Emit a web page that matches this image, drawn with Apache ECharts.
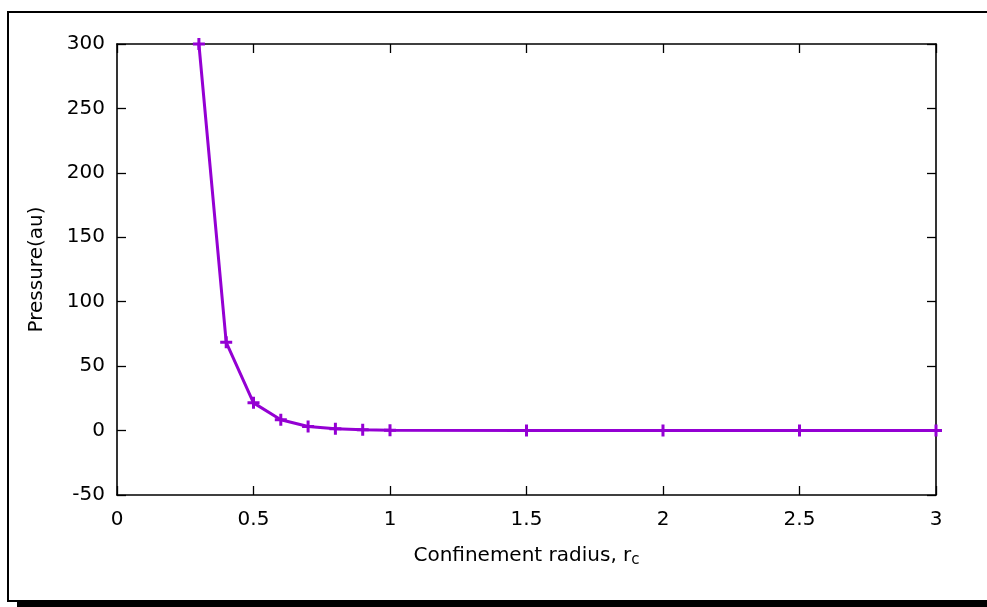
<!DOCTYPE html>
<html>
<head>
<meta charset="utf-8">
<script src="https://cdn.jsdelivr.net/npm/echarts@6/dist/echarts.min.js"></script>
<style>html,body{margin:0;padding:0;background:#fff}#c{width:987px;height:607px}</style>
</head>
<body>
<div id="c"></div>
<script>
var radius = [0.3, 0.4, 0.5, 0.6, 0.7, 0.8, 0.9, 1.0, 1.5, 2.0, 2.5, 3.0];
var pressure = [300, 68.5, 21.5, 8.4, 3.2, 1.4, 0.6, 0.3, 0.02, 0.005, 0.002, 0.001];
var xTicks = {min: 0, max: 3, interval: 0.5};
var yTicks = {min: -50, max: 300, interval: 50};

var chart = echarts.init(document.getElementById('c'), null, {renderer: 'canvas'});
var FONT = 'DejaVu Sans';
var axisLine = {show: true, onZero: false, lineStyle: {color: '#000', width: 1.6}};
var tick = {show: true, inside: true, length: 9, lineStyle: {color: '#000', width: 1.3}};
var plus = 'path://M4.5,0H7.5V4.5H12V7.5H7.5V12H4.5V7.5H0V4.5H4.5Z';
chart.setOption({
  animation: false,
  backgroundColor: '#fff',
  grid: {left: 117, right: 51, top: 44, bottom: 112, containLabel: false},
  graphic: [
    {type: 'rect', shape: {x: 8, y: 12, width: 1000, height: 589}, style: {fill: 'none', stroke: '#000', lineWidth: 2}, z: 100},
    {type: 'rect', shape: {x: 17, y: 601, width: 980, height: 7}, style: {fill: '#000'}, z: 100}
  ],
  xAxis: [{
    type: 'value', min: xTicks.min, max: xTicks.max, interval: xTicks.interval, position: 'bottom',
    axisLine: axisLine, axisTick: tick, splitLine: {show: false},
    axisLabel: {color: '#000', fontFamily: FONT, fontSize: 20, margin: 15},
    name: 'Confinement radius, r{sub|c}', nameLocation: 'middle', nameGap: 49,
    nameTextStyle: {color: '#000', fontFamily: FONT, fontSize: 20,
      rich: {sub: {fontFamily: FONT, fontSize: 15, color: '#000', verticalAlign: 'bottom', padding: [9, 0, 0, 0]}}}
  }, {
    type: 'value', min: xTicks.min, max: xTicks.max, interval: xTicks.interval, position: 'top',
    axisLine: axisLine, axisTick: tick, splitLine: {show: false}, axisLabel: {show: false}
  }],
  yAxis: [{
    type: 'value', min: yTicks.min, max: yTicks.max, interval: yTicks.interval, position: 'left',
    axisLine: axisLine, axisTick: tick, splitLine: {show: false},
    axisLabel: {color: '#000', fontFamily: FONT, fontSize: 20, margin: 12},
    name: 'Pressure(au)', nameLocation: 'middle', nameGap: 70,
    nameTextStyle: {color: '#000', fontFamily: FONT, fontSize: 20}
  }, {
    type: 'value', min: yTicks.min, max: yTicks.max, interval: yTicks.interval, position: 'right',
    axisLine: axisLine, axisTick: tick, splitLine: {show: false}, axisLabel: {show: false}
  }],
  series: [{
    type: 'line',
    data: radius.map(function (r, i) { return [r, pressure[i]]; }),
    lineStyle: {color: '#9400D3', width: 3},
    itemStyle: {color: '#9400D3'},
    symbol: plus, symbolSize: 12, showSymbol: true,
    clip: false
  }]
});
</script>
</body>
</html>
